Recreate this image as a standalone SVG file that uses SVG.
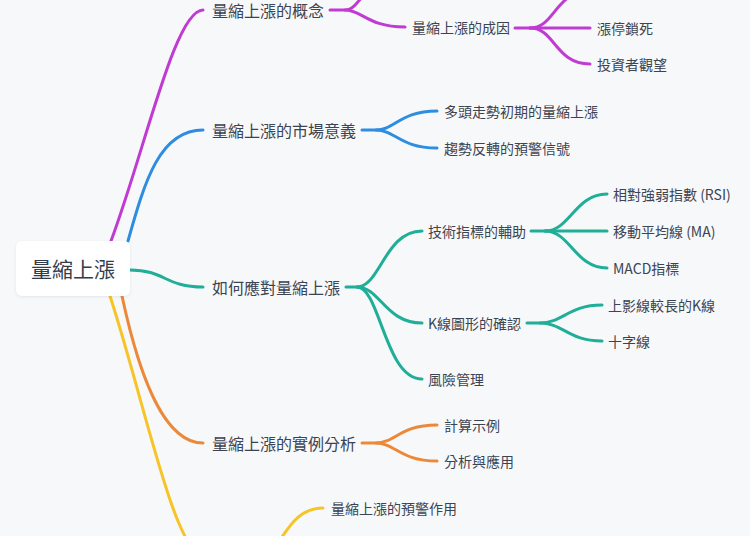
<svg xmlns="http://www.w3.org/2000/svg" width="750" height="536" viewBox="0 0 750 536">
<defs>
<filter id="sh" x="-20%" y="-30%" width="140%" height="160%">
<feDropShadow dx="0" dy="1" stdDeviation="1.5" flood-color="#000" flood-opacity="0.08"/>
</filter>
<style>
text{font-family:"Noto Sans CJK TC","Noto Sans",sans-serif;fill:#3b4452;dominant-baseline:central}
.m{font-size:16px}
.s{font-size:14px}
.r{font-size:21px;fill:#333d4a;text-anchor:middle}
path{fill:none;stroke-width:3;stroke-linecap:round}
.pu{stroke:#c03bd2}
.bl{stroke:#2e8de0}
.te{stroke:#1fae98}
.or{stroke:#ec8939}
.ye{stroke:#f7c427}
</style>
</defs>
<rect width="750" height="536" fill="#f7f8fa"/>
<g id="connectors">
<path class="pu" d="M111 241 C145 150 175 10 203 10"/>
<path class="pu" d="M330 10 L345 10 C362 10 368 -30 405 -30"/>
<path class="pu" d="M345 10 C362 10 368 27 405 27"/>
<path class="pu" d="M515 28 L530 28 C555 28 555 -9 590 -9"/>
<path class="pu" d="M530 28 L590 28"/>
<path class="pu" d="M530 28 C555 28 555 64 590 64"/>
<path class="bl" d="M128 241 C145 180 160 130 203 130"/>
<path class="bl" d="M362 130 L376 130 C395 130 400 111 437 111"/>
<path class="bl" d="M376 130 C395 130 400 148 437 148"/>
<path class="te" d="M130 270 C165 270 165 287 203 287"/>
<path class="te" d="M346 287 L357 287 C380 287 385 231 422 231"/>
<path class="te" d="M357 287 C380 287 385 323 422 323"/>
<path class="te" d="M357 287 C380 287 385 379 422 379"/>
<path class="te" d="M531 231 L545 231 C570 231 575 194 607 194"/>
<path class="te" d="M545 231 L607 231"/>
<path class="te" d="M545 231 C570 231 575 268 607 268"/>
<path class="te" d="M527 323 L540 323 C563 323 568 305 602 305"/>
<path class="te" d="M540 323 C563 323 568 341 602 341"/>
<path class="or" d="M122 296 C140 380 165 443 203 443"/>
<path class="or" d="M362 443 L376 443 C395 443 400 425 437 425"/>
<path class="or" d="M376 443 C395 443 400 461 437 461"/>
<path class="ye" d="M110 296 C144 400 175 555 203 555"/>
<path class="ye" d="M262 555 C281 555 286 508 323 508"/>
</g>
<g id="root">
<rect x="16" y="241" width="114" height="55" rx="6" fill="#ffffff" filter="url(#sh)"/>
<text class="r" x="73" y="268">量縮上漲</text>
</g>
<g id="n-concept"><text class="m" x="212" y="10">量縮上漲的概念</text></g>
<g id="n-cause"><text class="s" x="412" y="27">量縮上漲的成因</text></g>
<g id="n-limit"><text class="s" x="597" y="28">漲停鎖死</text></g>
<g id="n-wait"><text class="s" x="597" y="64">投資者觀望</text></g>
<g id="n-market"><text class="m" x="212" y="130">量縮上漲的市場意義</text></g>
<g id="n-bull"><text class="s" x="444" y="111">多頭走勢初期的量縮上漲</text></g>
<g id="n-reversal"><text class="s" x="444" y="148">趨勢反轉的預警信號</text></g>
<g id="n-respond"><text class="m" x="212" y="287">如何應對量縮上漲</text></g>
<g id="n-tech"><text class="s" x="428" y="231">技術指標的輔助</text></g>
<g id="n-rsi"><text class="s" x="613" y="194">相對強弱指數 (RSI)</text></g>
<g id="n-ma"><text class="s" x="613" y="231">移動平均線 (MA)</text></g>
<g id="n-macd"><text class="s" x="613" y="268">MACD指標</text></g>
<g id="n-kline"><text class="s" x="428" y="323">K線圖形的確認</text></g>
<g id="n-shadow"><text class="s" x="608" y="305">上影線較長的K線</text></g>
<g id="n-doji"><text class="s" x="608" y="341">十字線</text></g>
<g id="n-risk"><text class="s" x="428" y="379">風險管理</text></g>
<g id="n-case"><text class="m" x="212" y="443">量縮上漲的實例分析</text></g>
<g id="n-calc"><text class="s" x="444" y="425">計算示例</text></g>
<g id="n-apply"><text class="s" x="444" y="461">分析與應用</text></g>
<g id="n-warn"><text class="s" x="331" y="508">量縮上漲的預警作用</text></g>
</svg>
